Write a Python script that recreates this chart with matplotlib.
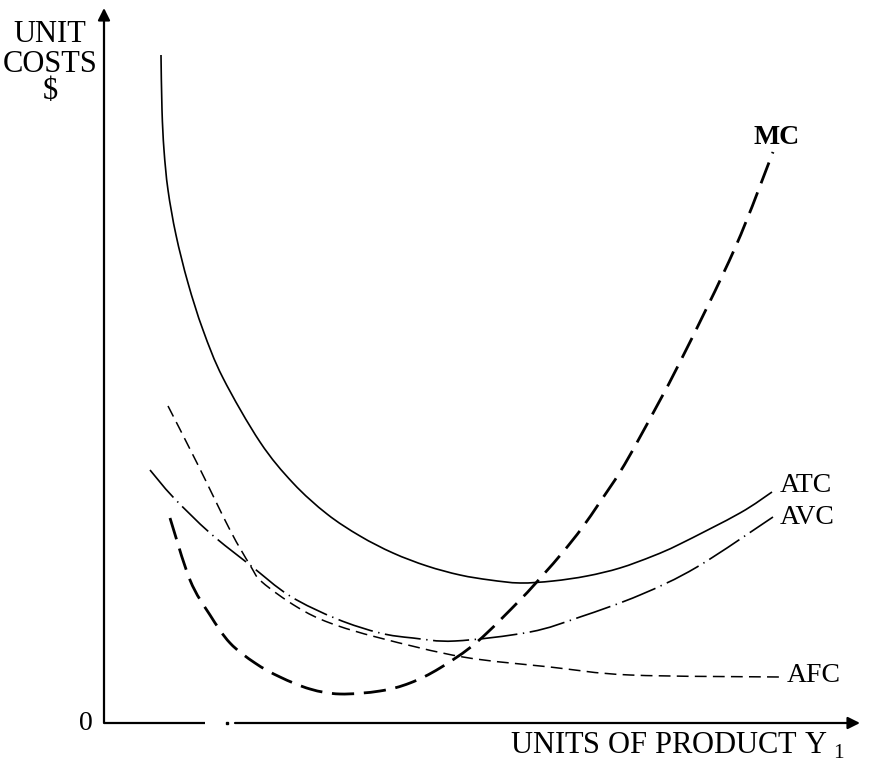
import matplotlib
matplotlib.use("Agg")
import matplotlib.pyplot as plt
import numpy as np
from matplotlib.path import Path
from matplotlib.patches import PathPatch

plt.rcParams['font.family'] = ['Liberation Serif', 'DejaVu Serif']
plt.rcParams['mathtext.fontset'] = 'custom'
plt.rcParams['mathtext.rm'] = 'Liberation Serif'
plt.rcParams['lines.scale_dashes'] = False

# values (quantity, unit cost)
atc_q = [57, 58, 60, 64, 72, 84, 99, 119, 156, 189, 223, 256, 289, 323, 356, 386, 416,
         449, 483, 516, 549, 576, 636, 668]
atc_c = [668, 613, 573, 533, 488, 440, 393, 345, 281, 240, 209, 187, 170, 157, 148, 143, 140,
         142, 147, 155, 167, 179, 210, 231]

mc_q = [66, 86, 106, 126, 151, 176, 206, 236, 276, 306, 336, 373, 416, 439, 459, 478, 496, 516,
        536, 576, 631, 669]
mc_c = [205, 143, 108, 80, 60, 46, 34, 29, 32, 40, 55, 81, 123, 148, 171, 195, 221, 251,
        286, 361, 475, 571]

avc_q = [46, 69, 106, 146, 186, 233, 276, 309, 351, 426, 476, 536, 593, 669]
avc_c = [253, 226, 190, 158, 127, 104, 90, 85, 82, 91, 106, 128, 156, 206]

afc_q = [64, 93, 126, 146, 158, 193, 226, 276, 359, 446, 526, 676]
afc_c = [317, 260, 193, 158, 141, 116, 100, 85, 66, 56, 48, 46]


def smooth_path(xs, ys):
    """Bezier path through the points (Catmull-Rom handles)."""
    p = np.column_stack([xs, ys]).astype(float)
    verts = [p[0]]
    codes = [Path.MOVETO]
    for i in range(len(p) - 1):
        p0 = p[i - 1] if i > 0 else p[i]
        p3 = p[i + 2] if i + 2 < len(p) else p[i + 1]
        c1 = p[i] + (p[i + 1] - p0) / 6
        c2 = p[i + 1] - (p3 - p[i]) / 6
        verts += [c1, c2, p[i + 1]]
        codes += [Path.CURVE4] * 3
    return Path(verts, codes)


def draw_curve(ax, xs, ys, lw, dashes=None):
    ls = '-' if dashes is None else (0, dashes)
    ax.add_patch(PathPatch(smooth_path(xs, ys), fill=False, edgecolor='black',
                           lw=lw, linestyle=ls, capstyle='butt'))


fig = plt.figure(figsize=(8.72, 7.65), dpi=100)
ax = fig.add_axes([0, 0, 1, 1])
ax.set_xlim(-104, 768)
ax.set_ylim(-42, 723)
ax.axis('off')

# axes with arrow heads
arrow = dict(arrowstyle='-|>', color='black', lw=1.6, mutation_scale=18, shrinkA=0, shrinkB=0)
ax.annotate('', xy=(0, 715), xytext=(0, 0), arrowprops=arrow)
ax.annotate('', xy=(756, 0), xytext=(131, 0), arrowprops=arrow)
ax.plot([0, 101], [0, 0], color='black', lw=1.6, solid_capstyle='butt')
ax.plot([123], [0], marker='s', ms=1.5, color='black')

# cost curves
draw_curve(ax, atc_q, atc_c, 1.2)
draw_curve(ax, mc_q, mc_c, 2.0, (16, 7))
draw_curve(ax, avc_q, avc_c, 1.2, (26, 4, 1, 4))
draw_curve(ax, afc_q, afc_c, 1.1, (8.5, 4.5))

# curve labels
ax.text(673, 586, 'MC', fontsize=20, fontweight='bold', ha='center', va='center')
ax.text(676, 238, 'ATC', fontsize=20, ha='left', va='center')
ax.text(676, 206, 'AVC', fontsize=20, ha='left', va='center')
ax.text(683, 48, 'AFC', fontsize=20, ha='left', va='center')

# axis titles
ax.text(-54, 689, 'UNIT', fontsize=22, ha='center', va='center')
ax.text(-54, 659, 'COSTS', fontsize=22, ha='center', va='center')
ax.text(-54, 632, '$', fontsize=22, ha='center', va='center')
ax.text(-18, 0, '0', fontsize=20, ha='center', va='center')
ax.text(406, -23, r'UNITS OF PRODUCT Y $_\mathregular{1}$', fontsize=22, ha='left', va='center')

fig.savefig('out.png', dpi=100)
